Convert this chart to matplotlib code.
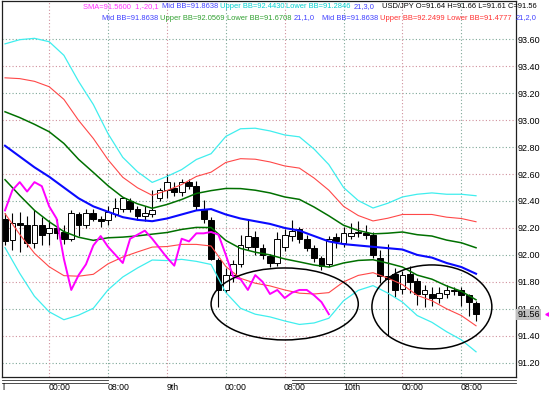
import matplotlib
matplotlib.use("Agg")
import matplotlib.pyplot as plt
from matplotlib.patches import Ellipse
from matplotlib.transforms import blended_transform_factory

plt.rcParams['font.family'] = ['Liberation Sans', 'DejaVu Sans']

# ----------------------------------------------------------------------
# data (USD/JPY, hourly bars)
# ----------------------------------------------------------------------
opens = [92.27, 92.11, 92.24, 92.22, 92.09, 92.22, 92.16, 92.20, 92.17, 92.12,
         92.30, 92.22, 92.31, 92.27, 92.26, 92.30, 92.34, 92.40, 92.34, 92.29,
         92.30, 92.42, 92.48, 92.50, 92.47, 92.54, 92.51, 92.34, 92.26, 91.96,
         91.74, 91.85, 91.93, 92.06, 92.13, 92.05, 91.99, 91.94, 92.06, 92.14,
         92.19, 92.12, 92.05, 91.98, 91.93, 92.13, 92.09, 92.14, 92.16, 92.16,
         92.15, 91.98, 91.84, 91.86, 91.75, 91.86, 91.81, 91.71, 91.71, 91.68,
         91.71, 91.73, 91.74, 91.70, 91.64]
highs = [92.31, 92.31, 92.32, 92.29, 92.33, 92.28, 92.26, 92.27, 92.22, 92.33,
         92.32, 92.34, 92.34, 92.29, 92.36, 92.42, 92.43, 92.42, 92.36, 92.36,
         92.48, 92.50, 92.60, 92.54, 92.56, 92.56, 92.55, 92.41, 92.28, 91.98,
         91.90, 91.96, 92.15, 92.26, 92.18, 92.08, 92.01, 92.17, 92.19, 92.26,
         92.21, 92.15, 92.07, 91.99, 92.14, 92.16, 92.21, 92.24, 92.25, 92.22,
         92.17, 92.04, 92.08, 91.90, 91.88, 91.92, 91.83, 91.78, 91.76, 91.76,
         91.78, 91.76, 91.76, 91.71, 91.66]
lows = [92.07, 92.04, 92.02, 92.06, 92.05, 92.07, 92.07, 92.12, 92.08, 92.10,
        92.14, 92.20, 92.25, 92.21, 92.22, 92.28, 92.32, 92.32, 92.26, 92.25,
        92.28, 92.40, 92.42, 92.44, 92.44, 92.49, 92.33, 92.24, 91.96, 91.61,
        91.72, 91.80, 91.91, 92.04, 92.00, 91.97, 91.91, 91.92, 92.03, 92.10,
        92.09, 92.03, 91.95, 91.89, 91.91, 92.05, 92.06, 92.12, 92.13, 92.12,
        91.98, 91.79, 91.40, 91.69, 91.71, 91.72, 91.63, 91.61, 91.62, 91.64,
        91.68, 91.70, 91.62, 91.55, 91.51]
closes = [92.10, 92.24, 92.22, 92.09, 92.22, 92.15, 92.20, 92.16, 92.12, 92.31,
          92.22, 92.31, 92.27, 92.25, 92.32, 92.35, 92.42, 92.34, 92.29, 92.31,
          92.33, 92.48, 92.54, 92.47, 92.54, 92.51, 92.36, 92.27, 91.97, 91.74,
          91.85, 91.93, 92.07, 92.14, 92.06, 92.00, 91.94, 92.12, 92.15, 92.18,
          92.12, 92.05, 91.98, 91.92, 92.12, 92.10, 92.16, 92.16, 92.17, 92.15,
          92.00, 91.84, 91.82, 91.74, 91.85, 91.80, 91.71, 91.74, 91.68, 91.72,
          91.74, 91.74, 91.70, 91.65, 91.56]

# Bollinger(21) middle line and one standard deviation, read every 2nd bar
bb_bars = list(range(0, 65, 2))
bb_mid = [92.81, 92.73, 92.65, 92.58, 92.50, 92.42, 92.36, 92.32, 92.28, 92.26,
          92.25, 92.27, 92.30, 92.33, 92.34, 92.30, 92.27, 92.25, 92.23, 92.20,
          92.18, 92.14, 92.10, 92.08, 92.07, 92.06, 92.05, 92.04, 92.00, 91.98,
          91.94, 91.91, 91.86]
bb_sigma = [0.252, 0.289, 0.319, 0.334, 0.327, 0.289, 0.252, 0.193, 0.148, 0.119,
            0.096, 0.104, 0.111, 0.126, 0.137, 0.193, 0.222, 0.230, 0.230, 0.230,
            0.232, 0.215, 0.190, 0.140, 0.111, 0.096, 0.111, 0.130, 0.150, 0.160,
            0.170, 0.180, 0.193]

# magenta "SMA 1,-20": the close moved 20 bars to the left
sma_shift = 20

time_ticks = [6, 14, 22, 30, 38, 46, 54, 62]
time_labels = ["00:00", "08:00", "9th", "00:00", "08:00", "10th", "00:00", "08:00"]
price_ticks = [91.20, 91.40, 91.60, 91.80, 92.00, 92.20, 92.40, 92.60,
               92.80, 93.00, 93.20, 93.40, 93.60]
last_price = 91.56

# hand-drawn circles on the chart: (bar, price, width in bars, height in price)
circles = [(38.0, 91.636, 20.0, 0.534), (58.0, 91.614, 16.3, 0.623)]

# ----------------------------------------------------------------------
# figure
# ----------------------------------------------------------------------
W, H = 549, 394
fig = plt.figure(figsize=(W / 100, H / 100), dpi=100)
ax = fig.add_axes([2 / W, 17 / H, 514 / W, 376 / H])
ax.set_xlim(-0.41, 69.43)
ax.set_ylim(91.094, 93.884)

grid_colors = ["#7fa898", "#d0909c"]
for i, p in enumerate(price_ticks):
    ax.axhline(p, color=grid_colors[i % 2], lw=0.8, ls=(0, (1, 2)), zorder=0.5)
for i, t in enumerate(time_ticks):
    ax.axvline(t, color=grid_colors[(i + 1) % 2], lw=0.8, ls=(0, (1, 2)), zorder=0.5)

# candles
bars = range(len(closes))
ax.vlines(bars, lows, highs, color="black", lw=0.8, zorder=2)
bottoms = [min(o, c) for o, c in zip(opens, closes)]
heights = [max(abs(c - o), 0.004) for o, c in zip(opens, closes)]
fills = ["white" if c >= o else "black" for o, c in zip(opens, closes)]
ax.bar(bars, heights, bottom=bottoms, width=0.78, color=fills,
       edgecolor="black", lw=0.7, zorder=2.2)

# bollinger bands
band_styles = [(3, "#40eeee", 0.9), (2, "#ff4848", 0.8), (1, "#007000", 1.1)]
for n, col, lw in band_styles:
    up = [m + n * s for m, s in zip(bb_mid, bb_sigma)]
    dn = [m - n * s for m, s in zip(bb_mid, bb_sigma)]
    ax.plot(bb_bars, up, color=col, lw=lw, zorder=3)
    ax.plot(bb_bars, dn, color=col, lw=lw, zorder=3)
ax.plot(bb_bars, bb_mid, color="#0a0aff", lw=1.5, zorder=3.2)

# shifted close
ax.plot(range(len(closes) - sma_shift), closes[sma_shift:], color="#ff00ff",
        lw=1.4, zorder=3.3)

for cx, cy, w, h in circles:
    ax.add_patch(Ellipse((cx, cy), w, h, fill=False, ec="black", lw=1.1, zorder=4))

# axes look
for side in ["left", "right", "bottom", "top"]:
    ax.spines[side].set_color("#202020")
    ax.spines[side].set_linewidth(0.9)
ax.yaxis.tick_right()
ax.set_yticks(price_ticks)
ax.set_yticklabels([f"{p:.2f}" for p in price_ticks])
ax.tick_params(axis="y", length=0, pad=1.2, labelsize=6.5)
ax.set_xticks([])

xb = blended_transform_factory(ax.transData, ax.transAxes)
for t, lab in zip(time_ticks, time_labels):
    ax.text(t - 0.1, -0.027, lab, transform=xb, fontsize=6.3, ha="left",
            va="center", clip_on=False)
ax.text(-0.3, -0.027, "l", transform=xb, fontsize=6.3, ha="left", va="center",
        clip_on=False)

# day separators under the axis
for x0, x1 in [(-0.41, 14.0), (39.0, 69.43)]:
    for yy in (-0.009, -0.015):
        ax.plot([x0, x1], [yy, yy], color="#303030", lw=0.6, transform=xb,
                clip_on=False)

yb = blended_transform_factory(ax.transAxes, ax.transData)
ax.text(1.003, last_price, f"{last_price:.2f}", transform=yb, fontsize=6.5,
        ha="left", va="center", clip_on=False, zorder=6,
        bbox=dict(boxstyle="square,pad=0.12", fc="#c0c0c0", ec="none"))
ax.plot([1.061], [last_price], marker="<", ms=2.5, color="#ff00ff",
        transform=yb, clip_on=False)

# indicator captions across the top
renderer = fig.canvas.get_renderer()


def caption(x_px, y_px, parts):
    x = x_px
    for gap, text, color in parts:
        x += gap
        t = fig.text(x / W, 1 - y_px / H, text, color=color, fontsize=5.4,
                     ha="left", va="center")
        x = t.get_window_extent(renderer).x1


caption(83, 7, [(0, "SMA=91.5600  1,-20,1", "#ff30ff"),
                (3, "Mid BB=91.8638", "#4040ff"),
                (2, "Upper BB=92.4430", "#00d0d0"),
                (2, "Lower BB=91.2846", "#00d0d0"),
                (3, "21,3,0", "#4040ff"),
                (7, "USD/JPY O=91.64 H=91.66 L=91.61 C=91.56", "#000000")])
caption(102, 18, [(0, "Mid BB=91.8638", "#4040ff"),
                  (2, "Upper BB=92.0569", "#30a030"),
                  (2, "Lower BB=91.6708", "#30a030"),
                  (2, "21,1,0", "#4040ff"),
                  (8, "Mid BB=91.8638", "#4040ff"),
                  (2, "Upper BB=92.2499", "#ff3030"),
                  (2, "Lower BB=91.4777", "#ff3030"),
                  (4, "21,2,0", "#4040ff")])

fig.savefig("out.png", dpi=100)
